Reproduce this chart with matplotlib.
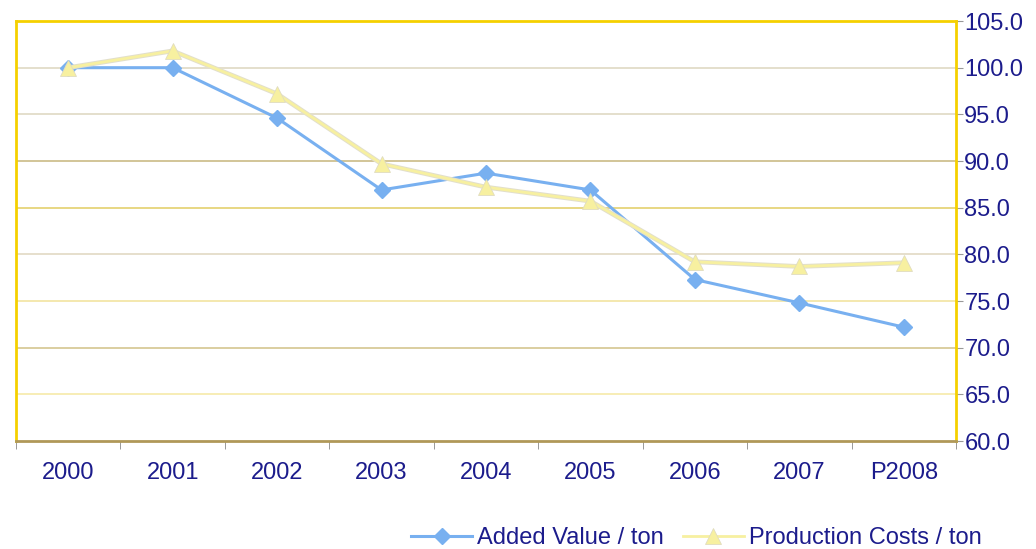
import matplotlib.pyplot as plt

plt.rcParams['font.family'] = ['Liberation Sans', 'DejaVu Sans']

years = ['2000', '2001', '2002', '2003', '2004', '2005', '2006', '2007', 'P2008']
added_value = [100.0, 100.0, 94.6, 86.9, 88.7, 86.9, 77.3, 74.8, 72.2]
production_costs = [100.0, 101.8, 97.2, 89.7, 87.2, 85.7, 79.2, 78.7, 79.1]

grid_levels = [65, 70, 75, 80, 85, 90, 95, 100]
grid_colors = ['#f7ecb0', '#d8ca98', '#f3e6a8', '#e4dcc8', '#e6d47a', '#cfc090', '#e2dcc8', '#e2dcc8']

text_color = '#1c1c8c'
blue = '#78b0f0'
yellow = '#f7f0a0'

fig = plt.figure(figsize=(10.36, 5.49), dpi=100)
ax = fig.add_axes([0.0154, 0.1967, 0.9074, 0.765])

for lvl, c in zip(grid_levels, grid_colors):
    ax.axhline(lvl, color=c, lw=1.3, zorder=1)

x = list(range(len(years)))
ax.plot(x, added_value, color=blue, lw=2.2, marker='D', markersize=8.5,
        markerfacecolor=blue, markeredgecolor=blue, label='Added Value / ton', zorder=3)
# faint grey edge under the pale yellow line
ax.plot(x, production_costs, color='#e2dfcc', lw=3.4, zorder=3.5)
ax.plot(x, production_costs, color=yellow, lw=2.0, marker='^', markersize=11,
        markerfacecolor=yellow, markeredgecolor='#e0dcc0', markeredgewidth=0.6,
        label='Production Costs / ton', zorder=4)

ax.set_xlim(-0.5, len(years) - 0.5)
ax.set_ylim(60, 105)
ax.set_yticks(range(60, 106, 5))
ax.set_yticklabels([f'{v:.1f}' for v in range(60, 106, 5)])
ax.yaxis.tick_right()
ax.tick_params(axis='y', colors='#999999', labelcolor=text_color, labelsize=17,
               length=5, direction='out', pad=1)

ax.set_xticks(x)
ax.set_xticklabels(years)
ax.set_xticks([i - 0.5 for i in range(len(years) + 1)], minor=True)
ax.tick_params(axis='x', which='major', length=0, labelcolor=text_color, labelsize=17, pad=15)
ax.tick_params(axis='x', which='minor', length=6, color='#888888', direction='out')

for side in ['left', 'top', 'right']:
    ax.spines[side].set_color('#f5d000')
    ax.spines[side].set_linewidth(2)
ax.spines['bottom'].set_color('#b09858')
ax.spines['bottom'].set_linewidth(2)

fig.legend(loc='center', bbox_to_anchor=(0.672, 0.02), ncol=2, frameon=False,
           fontsize=17, labelcolor=text_color, handlelength=2.6, handletextpad=0.2,
           columnspacing=0.8)

fig.savefig('out.png', dpi=100)
